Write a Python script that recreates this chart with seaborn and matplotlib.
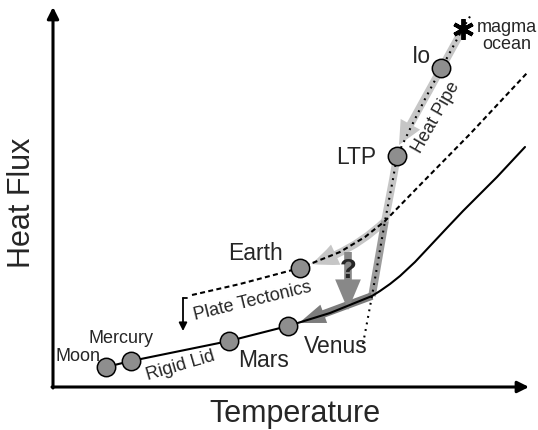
import seaborn as sns
import matplotlib.pyplot as plt
import pandas as pd

# schematic values: temperature (x) and heat flux (y), arbitrary units
rigid_T = [106, 131, 180, 229, 288, 330, 372, 380, 390, 400, 415, 430, 445, 463, 480, 497, 525]
rigid_Q = [63, 69, 79, 89, 104, 117, 134, 139, 146, 154, 168, 184, 200, 219, 236, 253, 283]

plate_T = [192, 240, 300, 340, 365, 385, 420, 470, 527]
plate_Q = [135, 146, 162, 178, 193, 209, 245, 296, 357]

pipe_T = [363, 372, 385, 393, 397, 410, 425, 441, 462, 472]
pipe_Q = [86, 134, 209, 251, 274, 301, 331, 361, 400, 417]

planets = ['Moon', 'Mercury', 'Mars', 'Venus', 'Earth', 'LTP', 'Io']
planet_T = [106, 131, 229, 288, 300, 397, 441]
planet_Q = [63, 69, 89, 104, 162, 274, 362]

sns.set_theme(style='white')
plt.rcParams['font.family'] = ['Liberation Sans', 'DejaVu Sans']

fig = plt.figure(figsize=(5.38, 4.31), dpi=100)
ax = fig.add_axes([0, 0, 1, 1])
ax.set_xlim(0, 538)
ax.set_ylim(0, 431)
ax.axis('off')

light = '#c6c6c6'
mid = '#9c9c9c'
dark = '#7c7c7c'


def fat_arrow(start, end, color, rad=0.0, hl=1.9, hw=1.6):
    ax.annotate('', xy=end, xytext=start, zorder=1,
                arrowprops=dict(arrowstyle=f'simple,head_length={hl},head_width={hw},tail_width=0.55',
                                mutation_scale=10, color=color, lw=0,
                                shrinkA=0, shrinkB=0,
                                connectionstyle=f'arc3,rad={rad}'))


# evolution paths (grey)
fat_arrow((463, 401), (399, 285), light, hl=1.7)
sns.lineplot(x=pipe_T[2:5][::-1], y=pipe_Q[2:5][::-1], sort=False, estimator=None,
             color=light, lw=5.5, solid_capstyle='butt', ax=ax, zorder=1)
fat_arrow((385, 209), (311, 166), light, rad=-0.12)
sns.lineplot(x=pipe_T[1:3], y=pipe_Q[1:3], sort=False, estimator=None,
             color=mid, lw=5.5, solid_capstyle='butt', ax=ax, zorder=1)
fat_arrow((372, 134), (299, 107), dark, hw=1.4)
fat_arrow((348, 178), (348, 120), '#888888', hl=2.2, hw=1.85)

# regime curves
sns.lineplot(x=rigid_T, y=rigid_Q, sort=False, estimator=None, color='black',
             lw=1.5, ax=ax, zorder=2)
sns.lineplot(x=plate_T, y=plate_Q, sort=False, estimator=None, color='black',
             lw=1.5, linestyle=(0, (2.4, 1.6)), ax=ax, zorder=2)
sns.lineplot(x=pipe_T, y=pipe_Q, sort=False, estimator=None, color='black',
             lw=1.5, linestyle=(0, (0.9, 2.3)), dash_capstyle='butt', ax=ax, zorder=2)

# plate tectonics -> rigid lid drop
ax.plot([187, 183], [132, 132], color='black', lw=1.3, zorder=2)
ax.annotate('', xy=(183, 99), xytext=(183, 132),
            arrowprops=dict(arrowstyle='-|>', lw=1.3, color='black',
                            mutation_scale=12, shrinkA=0, shrinkB=0))

# bodies
df = pd.DataFrame({'T': planet_T, 'Q': planet_Q, 'body': planets})
sns.scatterplot(data=df, x='T', y='Q', s=175, color='#8e8e8e', edgecolor='black',
                linewidth=1.1, ax=ax, zorder=4, legend=False)
ax.plot([463], [401], marker=(6, 2, 0), markersize=15, mew=2.8, color='black', zorder=5)

# axes arrows
ax.annotate('', xy=(529, 43), xytext=(52, 43),
            arrowprops=dict(arrowstyle='-|>', lw=2.2, color='black',
                            mutation_scale=17, shrinkA=0, shrinkB=0))
ax.annotate('', xy=(53, 423), xytext=(53, 42),
            arrowprops=dict(arrowstyle='-|>', lw=2.2, color='black',
                            mutation_scale=17, shrinkA=0, shrinkB=0))

# labels
big = 16.5
small = 13
ax.text(507, 395, 'magma\nocean', ha='center', va='center', fontsize=small, linespacing=0.95)
ax.text(421.5, 374.5, 'Io', ha='center', va='center', fontsize=big)
ax.text(356, 274, 'LTP', ha='center', va='center', fontsize=big)
ax.text(255.5, 177.5, 'Earth', ha='center', va='center', fontsize=big)
ax.text(336, 84, 'Venus', ha='center', va='center', fontsize=big)
ax.text(264, 70, 'Mars', ha='center', va='center', fontsize=big)
ax.text(348, 160, '?', ha='center', va='center', fontsize=20, fontweight='bold', zorder=5)
ax.text(120.5, 92, 'Mercury', ha='center', va='center', fontsize=small)
ax.text(78, 74, 'Moon', ha='center', va='center', fontsize=small)
ax.text(253, 130, 'Plate Tectonics', ha='center', va='center', fontsize=small,
        rotation=13.7, rotation_mode='anchor')
ax.text(181, 65, 'Rigid Lid', ha='center', va='center', fontsize=small,
        rotation=16.4, rotation_mode='anchor')
ax.text(436, 314, 'Heat Pipe', ha='center', va='center', fontsize=small,
        rotation=60.4, rotation_mode='anchor')
ax.text(22, 228, 'Heat Flux', ha='center', va='center', fontsize=22, rotation=90)
ax.text(295, 17, 'Temperature', ha='center', va='center', fontsize=22)

fig.savefig('out.png', dpi=100)
